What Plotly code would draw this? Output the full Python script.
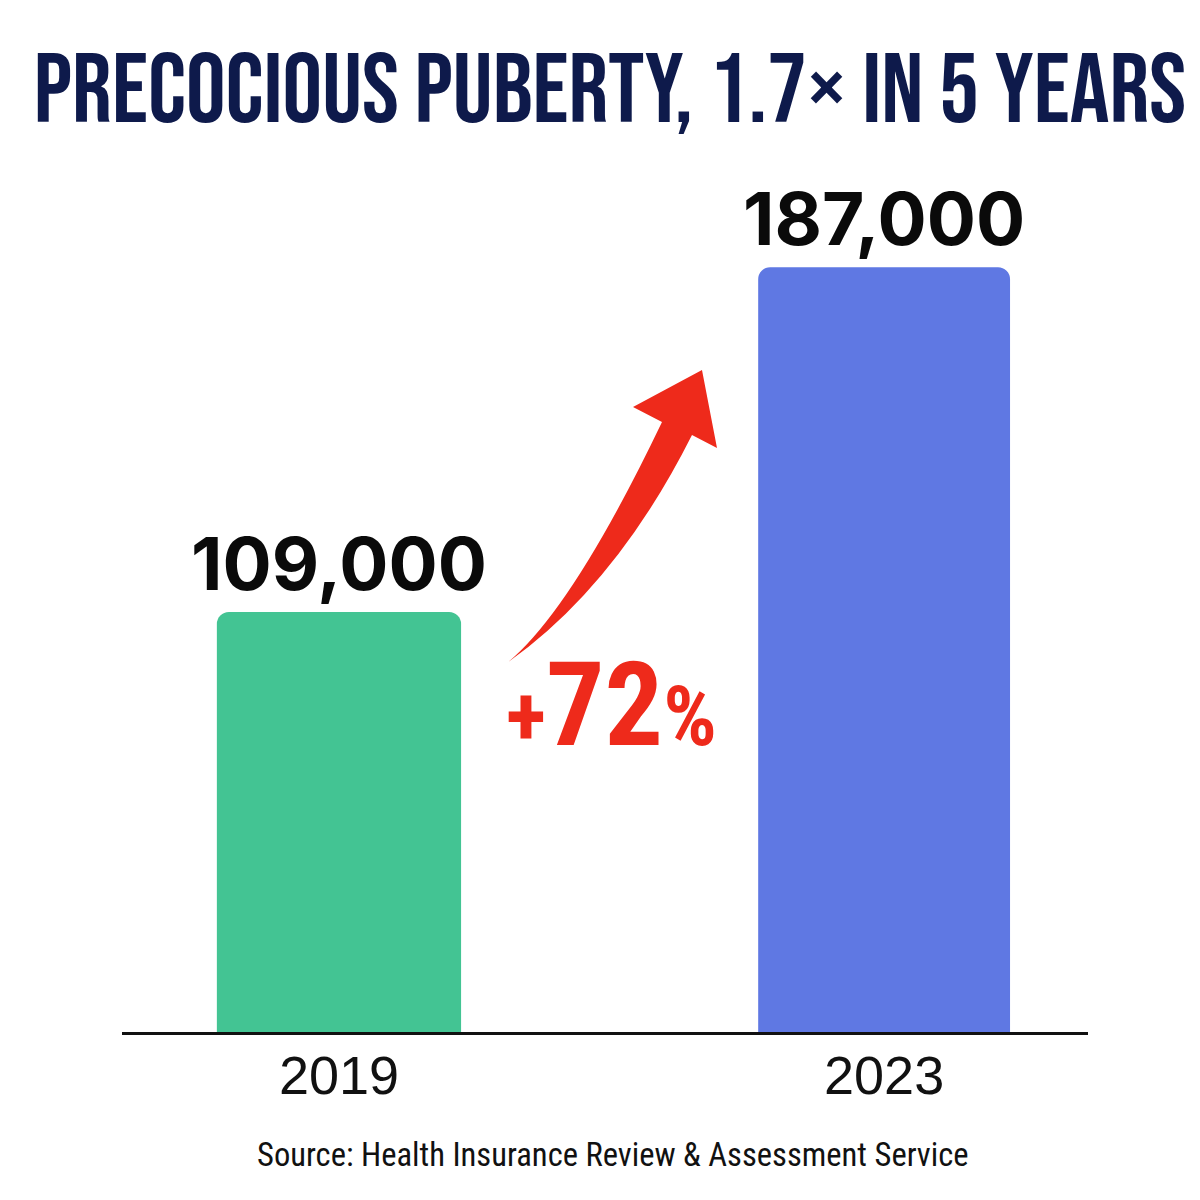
import plotly.graph_objects as go

# ---- data ----
years = ["2019", "2023"]
patients = [109000, 187000]
value_labels = ["109,000", "187,000"]
bar_colors = ["#43C493", "#5F78E3"]
change_label = "+72%"
title_text = "PRECOCIOUS PUBERTY, 1.7× IN 5 YEARS"
source_text = "Source: Health Insurance Review & Assessment Service"

# ---- layout geometry (pixels) ----
W, H = 1200, 1200
L, R, T, B = 122, 1088, 170, 1032


def px(x):
    return (x - L) / (R - L)


def py(y):
    return (B - y) / (B - T)


fig = go.Figure()
fig.add_trace(go.Bar(
    x=years, y=patients,
    width=[0.448, 0.462],
    marker=dict(color=bar_colors, line=dict(width=0), cornerradius=12),
    hoverinfo="skip",
))

# value labels above bars (category axis -> positional index)
for i, (v, lab) in enumerate(zip(patients, value_labels)):
    fig.add_annotation(
        x=i, y=v, xref="x", yref="y", text=lab, showarrow=False,
        yanchor="bottom", yshift=2,
        font=dict(family="Inter, Roboto, sans-serif", size=73, color="#0a0a0a", weight="bold"),
    )

# curved red arrow (decoration)
tail = (507, 663)
pts = {
    "lc": (572, 610), "nl": (662, 422), "bl": (633, 407), "tip": (702, 370),
    "br": (717, 448), "nr": (692, 435), "rc": (616, 586),
}


def P(p):
    return f"{px(p[0]):.5f},{py(p[1]):.5f}"


path = (f"M {P(tail)} Q {P(pts['lc'])} {P(pts['nl'])} L {P(pts['bl'])} L {P(pts['tip'])} "
        f"L {P(pts['br'])} L {P(pts['nr'])} Q {P(pts['rc'])} {P(tail)} Z")
fig.add_shape(type="path", path=path, xref="paper", yref="paper",
              fillcolor="#EE2A1B", line=dict(width=0), layer="above")

# +72% label
fig.add_annotation(
    x=px(611), y=py(705), xref="paper", yref="paper", showarrow=False,
    xanchor="center", yanchor="middle",
    text=("<span style='font-size:84px'>" + change_label[0] + "</span>" + change_label[1:3]
          + "<span style='font-size:84px'>" + change_label[3] + "</span>"),
    font=dict(family="Roboto Condensed, Liberation Sans, sans-serif", size=116, color="#EE2A1B", weight="bold"),
)

# source
fig.add_annotation(
    x=px(613), y=py(1155), xref="paper", yref="paper", showarrow=False,
    xanchor="center", yanchor="middle", text=source_text,
    font=dict(family="Roboto Condensed, Liberation Sans, sans-serif", size=32.6, color="#111111"),
)

fig.update_layout(
    width=W, height=H,
    margin=dict(l=L, r=W - R, t=T, b=H - B, pad=0),
    paper_bgcolor="white", plot_bgcolor="white",
    showlegend=False,
    title=dict(
        text=title_text, x=610 / W, xref="container", xanchor="center",
        y=1 - 87 / H, yref="container", yanchor="middle",
        font=dict(family="Bebas Neue, Oswald, sans-serif", size=99, color="#0E1A4B"),
    ),
    xaxis=dict(
        type="category", range=[-0.398, 1.374], showgrid=False, zeroline=False,
        showline=True, linecolor="#111111", linewidth=3, ticks="",
        ticklabelstandoff=-6,
        tickfont=dict(family="Liberation Sans, Arial, sans-serif", size=54, color="#111111"),
        fixedrange=True,
    ),
    yaxis=dict(range=[14000, 209000], visible=False, fixedrange=True),
)

fig.write_html("out.html")
